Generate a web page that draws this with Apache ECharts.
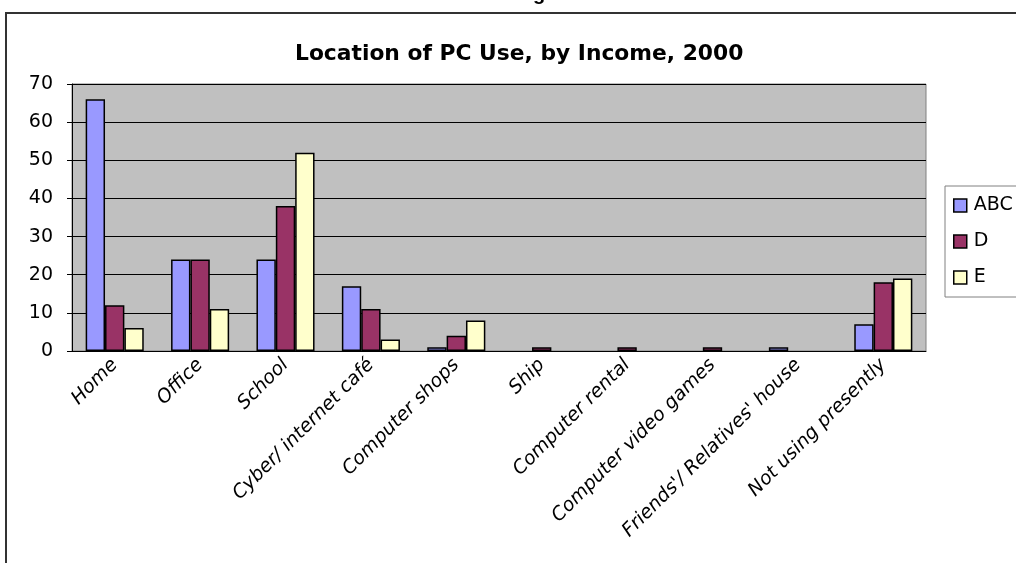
<!DOCTYPE html>
<html>
<head>
<meta charset="utf-8">
<script src="https://cdn.jsdelivr.net/npm/echarts@6/dist/echarts.min.js"></script>
<style>
  html, body { margin: 0; padding: 0; background: #fff; }
  #chart { width: 1016px; height: 563px; }
</style>
</head>
<body>
<div id="chart"></div>
<script>
// Location of PC use, by income group (%)
const categories = [
  'Home', 'Office', 'School', 'Cyber/ internet café', 'Computer shops',
  'Ship', 'Computer rental', 'Computer video games', "Friends'/ Relatives' house",
  'Not using presently'
];
const abc = [66, 24, 24, 17, 1, 0, 0, 0, 1, 7];
const d   = [12, 24, 38, 11, 4, 1, 1, 1, 0, 18];
const e   = [6, 11, 52, 3, 8, 0, 0, 0, 0, 19];
const seriesNames = ['ABC', 'D', 'E'];
const colors = ['#9999FF', '#993366', '#FFFFCC'];

const chart = echarts.init(document.getElementById('chart'), null, { renderer: 'canvas' });

const barStyle = (c) => ({ color: c, borderColor: '#000', borderWidth: 1.5 });
// zero values draw nothing in the original, so skip them
const skipZero = (arr) => arr.map((v) => (v === 0 ? '-' : v));

chart.setOption({
  animation: false,
  backgroundColor: '#fff',
  textStyle: { fontFamily: 'DejaVu Sans, sans-serif' },
  title: {
    text: 'Location of PC Use, by Income, 2000',
    left: 290,
    top: 38,
    textStyle: { fontSize: 21.8, fontWeight: 'bold', color: '#000', fontFamily: 'DejaVu Sans' }
  },
  graphic: [
    // outer chart frame, runs off the right and bottom edges
    { type: 'rect', shape: { x: 6, y: 13, width: 1100, height: 700 },
      style: { fill: 'none', stroke: '#333', lineWidth: 2 }, silent: true },
    // fragment of the cut-off heading above the chart
    { type: 'text', x: 533, y: -16,
      style: { text: 'g', font: 'bold 20px Liberation Sans', fill: '#000' }, silent: true }
  ],
  legend: {
    orient: 'vertical',
    left: 945,
    top: 186,
    padding: [10, 60, 10, 8],
    itemWidth: 13,
    itemHeight: 13,
    itemGap: 17,
    icon: 'rect',
    borderColor: '#808080',
    borderWidth: 1,
    textStyle: { fontSize: 19, color: '#000', fontFamily: 'DejaVu Sans', padding: [0, 0, 0, 2] },
    itemStyle: { borderColor: '#000', borderWidth: 1.5 },
    data: seriesNames
  },
  grid: {
    left: 72,
    right: 90,
    top: 84,
    bottom: 212,
    show: true,
    backgroundColor: '#C0C0C0',
    borderColor: '#808080',
    borderWidth: 1
  },
  xAxis: {
    type: 'category',
    data: categories,
    axisLine: { lineStyle: { color: '#000', width: 1 } },
    axisTick: { alignWithLabel: false, length: 6, lineStyle: { color: '#000' } },
    axisLabel: {
      rotate: 45,
      interval: 0,
      margin: 11,
      fontSize: 19,
      fontStyle: 'italic',
      color: '#000',
      fontFamily: 'DejaVu Sans'
    }
  },
  yAxis: {
    type: 'value',
    min: 0,
    max: 70,
    interval: 10,
    axisLine: { show: true, lineStyle: { color: '#000', width: 1 } },
    axisTick: { show: true, length: 5, lineStyle: { color: '#000' } },
    axisLabel: { margin: 19, fontSize: 19, color: '#000', fontFamily: 'DejaVu Sans' },
    splitLine: { lineStyle: { color: '#000', width: 1 } }
  },
  series: [
    { name: seriesNames[0], type: 'bar', data: skipZero(abc), barGap: '0%', barCategoryGap: '32%', itemStyle: barStyle(colors[0]) },
    { name: seriesNames[1], type: 'bar', data: skipZero(d), itemStyle: barStyle(colors[1]) },
    { name: seriesNames[2], type: 'bar', data: skipZero(e), itemStyle: barStyle(colors[2]) }
  ]
});
</script>
</body>
</html>
